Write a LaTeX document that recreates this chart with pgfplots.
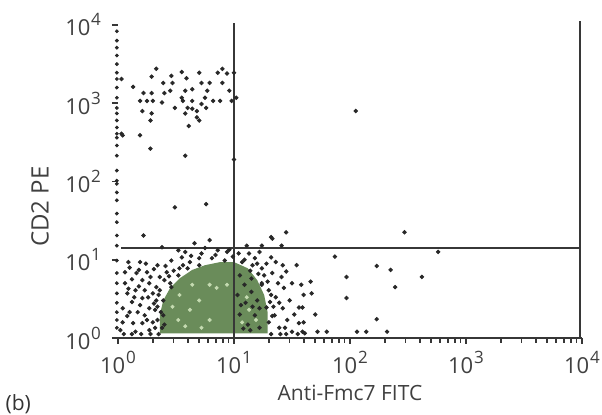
\documentclass[border=0pt]{standalone}
\usepackage{fontspec}
\setmainfont{Open Sans}
\usepackage{pgfplots}
\pgfplotsset{compat=1.18}
\definecolor{cgreen}{RGB}{106,140,90}
\definecolor{cpale}{RGB}{196,218,176}
\definecolor{cdot}{RGB}{40,40,40}
\definecolor{cline}{RGB}{55,55,55}
\newcommand{\tl}[1]{10\kern0.4pt\raisebox{0.85ex}{\fontsize{8.5}{9}\selectfont #1}}
\begin{document}
\begin{tikzpicture}
\begin{axis}[
  at={(0,0)}, anchor=south west, scale only axis,
  width=232pt, height=156.5pt,
  xmin=0, xmax=4, ymin=0, ymax=4,
  axis x line*=bottom, axis y line*=left,
  x axis line style={cline, line width=0.9pt, -},
  y axis line style={draw=none},
  xtick={0,1,2,3,4}, ytick={0,1,2,3,4},
  xticklabels={\tl{0},\tl{1},\tl{2},\tl{3},\tl{4}},
  yticklabels={\tl{0},\tl{1},\tl{2},\tl{3},\tl{4}},
  minor xtick={0.301,0.477,0.602,0.699,0.778,0.845,0.903,0.954,
               1.301,1.477,1.602,1.699,1.778,1.845,1.903,1.954,
               2.301,2.477,2.602,2.699,2.778,2.845,2.903,2.954,
               3.301,3.477,3.602,3.699,3.778,3.845,3.903,3.954},
  tick align=outside, major tick length=3pt, minor tick length=2.5pt,
  tick style={cline, line width=0.8pt},
  ticklabel style={font=\fontsize{11}{12}\selectfont, text=black!75},
  yticklabel style={xshift=-2pt},
  xlabel={Anti-Fmc7 FITC}, ylabel={CD2 PE},
  label style={text=black!75},
  xlabel style={font=\fontsize{10.5}{12}\selectfont, at={(rel axis cs:0.5,-0.176)}, anchor=center},
  ylabel style={font=\fontsize{12}{14}\selectfont, at={(rel axis cs:-0.168,0.42)}, anchor=center},
  clip=false,
]
% dense population (drawn as a filled area)
\addplot[fill=cgreen, draw=none] coordinates {
 (0.36,0.06) (0.36,0.29) (0.39,0.48) (0.45,0.64) (0.53,0.76) (0.64,0.87)
 (0.75,0.93) (0.88,0.97) (1.00,0.97) (1.12,0.89) (1.20,0.74) (1.26,0.55)
 (1.29,0.33) (1.29,0.06) (0.36,0.06)};
% pale speckles inside the dense population
\addplot[only marks, mark=*, mark size=0.8pt, cpale, mark options={draw=none}] coordinates {
 (0.53,0.55) (0.64,0.68) (0.79,0.68) (0.85,0.64) (0.94,0.68) (0.52,0.23)
 (0.72,0.13) (0.79,0.23) (1.11,0.52) (1.13,0.36) (1.19,0.23) (1.07,0.20)
 (0.62,0.36) (0.70,0.48) (0.47,0.40) (0.58,0.15)};
% left edge (minimum channel) events
\addplot[only marks, mark=*, mark size=0.75pt, cdot, mark options={draw=none}] coordinates {
 (-0.01,3.92) (-0.01,3.80) (-0.01,3.71) (-0.01,3.61) (-0.01,3.50) (-0.01,3.39)
 (-0.01,3.31) (-0.01,3.20) (-0.01,3.07) (-0.01,2.94) (-0.01,2.87) (-0.01,2.78)
 (-0.01,2.69) (-0.01,2.61) (-0.01,2.56) (-0.01,2.46) (-0.01,2.33) (-0.01,2.14)
 (-0.01,2.01) (-0.01,1.97) (-0.01,1.86) (-0.01,1.76) (-0.01,1.59) (-0.01,1.48)
 (-0.01,1.31) (-0.01,1.18) (-0.01,0.99) (-0.01,0.83) (-0.01,0.70) (-0.01,0.57)
 (-0.01,0.45) (-0.01,0.33) (-0.01,0.23) (-0.01,0.13)};
% scattered events
\addplot[only marks, mark=*, mark size=0.9pt, cdot, mark options={draw=none}] coordinates {
 (0.13,3.21) (0.19,3.03) (0.29,3.34) (0.33,3.44) (0.22,3.13) (0.29,3.13)
 (0.25,3.03) (0.30,3.03) (0.21,2.90) (0.29,2.87) (0.28,2.78) (0.19,2.59)
 (0.28,2.42) (0.38,3.01) (0.40,3.13) (0.39,3.26) (0.46,3.35) (0.47,3.26)
 (0.45,3.16) (0.49,2.94) (0.55,3.40) (0.58,3.16) (0.56,3.03) (0.59,3.32)
 (0.55,3.07) (0.60,2.94) (0.58,2.87) (0.61,2.71) (0.58,2.33) (0.64,3.18)
 (0.64,3.03) (0.68,2.90) (0.70,3.39) (0.72,3.26) (0.75,3.07) (0.70,2.78)
 (0.76,2.94) (0.79,3.26) (0.82,3.03) (0.86,3.39) (0.88,3.03) (0.90,3.44)
 (0.94,3.38) (0.90,3.26) (0.96,3.16) (0.98,3.03) (1.00,3.39) (1.02,3.07)
 (0.72,2.99) (0.77,3.16) (0.64,2.93) (0.68,2.82) (0.03,3.31) (0.03,2.61)
 (0.04,2.59) (0.49,1.67) (0.76,1.71) (0.22,1.31) (1.00,2.28) (1.45,1.35)
 (1.33,1.27) (2.05,2.90) (2.47,1.35) (1.32,1.29)
 (1.87,1.04) (2.76,1.10) (2.23,0.92) (2.35,0.87) (1.97,0.78) (2.62,0.78)
 (2.39,0.65) (1.67,0.57) (1.97,0.51) (2.23,0.24) (1.60,0.20) (2.32,0.08)
 (1.72,0.08) (1.80,0.08) (2.06,0.08) (2.14,0.08) (1.59,0.08) (1.59,0.39)
 (0.06,0.84) (0.06,0.70) (0.08,0.57) (0.15,0.61) (0.16,0.83) (0.21,0.74)
 (0.23,0.61) (0.21,0.51) (0.12,0.46) (0.04,0.38) (0.10,0.33) (0.17,0.33)
 (0.27,0.38) (0.33,0.48) (0.33,0.65) (0.36,0.78) (0.34,0.93) (0.46,0.99)
 (0.55,1.03) (0.42,0.84) (0.45,0.70) (0.39,0.29) (0.30,0.20) (0.21,0.19)
 (0.13,0.19) (0.04,0.20) (0.02,0.10) (0.15,0.08) (0.27,0.10) (0.38,0.13)
 (0.38,1.16) (0.46,0.65) (0.30,0.57)
 (1.13,1.08) (1.22,1.10) (1.32,1.03) (1.36,0.97) (1.42,0.93) (1.54,0.93)
 (1.33,0.83) (1.41,0.78) (1.50,0.70) (1.58,0.68) (1.43,0.64) (1.30,0.61)
 (1.36,0.52) (1.48,0.48) (1.56,0.39) (1.42,0.38) (1.35,0.29) (1.46,0.23)
 (1.56,0.19) (1.39,0.13) (1.50,0.08) (1.61,0.06) (1.28,0.39) (1.24,0.70)
 (1.24,0.89) (1.16,0.93) (1.15,0.76) (1.41,1.18) (1.11,1.18) (1.24,1.18)
 (0.66,1.21) (0.79,1.25) (0.86,1.12) (0.94,1.10) (0.70,1.02) (0.62,0.97)
 (0.81,1.02) (0.92,0.99) (0.99,1.04) (0.53,0.89) (0.70,0.93) (0.75,1.15)
 (0.52,1.12)
 (0.36,0.61) (0.39,0.48) (0.40,0.74) (0.52,0.80) (0.60,0.89) (0.27,0.70)
 (0.25,0.84) (0.19,0.97) (0.09,0.97) (0.32,0.36) (0.34,0.23) (0.40,0.17)
 (0.23,0.29)
 (1.05,0.80) (1.09,0.68) (1.15,0.59) (1.20,0.48) (1.18,0.29) (1.12,0.17)
 (1.22,0.13) (1.06,0.42) (1.24,0.68) (1.26,0.80) (1.07,0.97) (1.18,1.02)
 (0.05,0.05) (0.12,0.05) (0.20,0.05) (0.28,0.05) (0.35,0.05) (1.32,0.05)
 (1.40,0.05) (1.45,0.05) (1.55,0.05)
 (0.10,0.90) (0.12,0.75) (0.18,0.66) (0.26,0.52) (0.31,0.44) (0.35,0.55)
 (0.28,0.78) (0.31,0.88) (0.24,0.95) (0.14,0.52) (0.08,0.28) (0.19,0.42)
 (0.25,0.23) (0.34,0.40) (0.37,0.33) (0.32,0.13) (0.09,0.63) (0.18,0.87)
 (0.41,0.92) (0.44,0.79) (0.48,0.86) (0.56,0.93) (0.63,1.05) (0.72,1.08)
 (0.84,1.06) (0.96,1.13) (0.58,1.10)
 (1.04,1.08) (1.09,1.00) (1.14,0.86) (1.21,0.82) (1.29,0.72) (1.32,0.55)
 (1.31,0.46) (1.34,0.40) (1.30,0.20) (1.33,0.28) (1.38,0.70) (1.45,0.85)
 (1.28,0.95) (1.20,0.95) (1.39,0.45) (1.44,0.13) (1.52,0.30) (1.60,0.55)
 (1.66,0.72) (1.70,0.30)
 (1.03,0.55) (1.05,0.30) (1.10,0.45) (1.14,0.10) (1.08,0.12) (1.22,0.38)
 (1.16,0.40)};
% gate lines
\addplot[cline, line width=1.1pt] coordinates {(1,0) (1,4.03)};
\addplot[cline, line width=1.1pt] coordinates {(3.98,0) (3.98,4.05)};
\addplot[cline, line width=1.1pt] coordinates {(0.03,1.15) (3.98,1.15)};
\node[font=\fontsize{10.5}{12}\selectfont, text=black!80] at (axis cs:-0.86,-0.84) {(b)};
\end{axis}
\pgfresetboundingbox
\useasboundingbox (-59pt,-38.5pt) rectangle (242pt,169pt);
\end{tikzpicture}
\end{document}
